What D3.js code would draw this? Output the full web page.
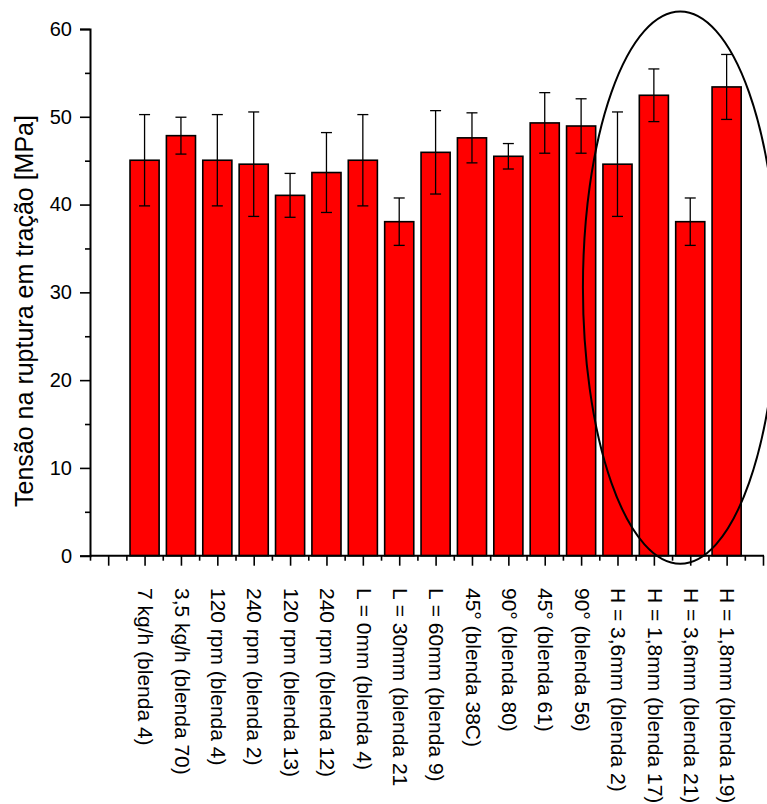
<!DOCTYPE html>
<html>
<head>
<meta charset="utf-8">
<script src="https://cdn.jsdelivr.net/npm/d3@7"></script>
<style>
  html, body { margin: 0; padding: 0; background: #fff; }
  svg { display: block; font-family: "Liberation Sans", Arial, sans-serif; }
</style>
</head>
<body>
<svg id="chart" width="767" height="804"></svg>
<script>
// Tensile strength at break per processing condition (mean ± standard deviation)
const categories = [
  "7 kg/h (blenda 4)",
  "3,5 kg/h (blenda 70)",
  "120 rpm (blenda 4)",
  "240 rpm (blenda 2)",
  "120 rpm (blenda 13)",
  "240 rpm (blenda 12)",
  "L = 0mm (blenda 4)",
  "L = 30mm (blenda 21",
  "L = 60mm (blenda 9)",
  "45° (blenda 38C)",
  "90° (blenda 80)",
  "45° (blenda 61)",
  "90° (blenda 56)",
  "H = 3,6mm (blenda 2)",
  "H = 1,8mm (blenda 17)",
  "H = 3,6mm (blenda 21)",
  "H = 1,8mm (blenda 19)"
];
const means  = [45.05, 47.85, 45.05, 44.6, 41.05, 43.65, 45.05, 38.05, 45.95, 47.6, 45.5, 49.3, 48.95, 44.6, 52.45, 38.05, 53.4];
const errors = [5.2, 2.1, 5.2, 5.95, 2.5, 4.55, 5.2, 2.7, 4.75, 2.85, 1.45, 3.45, 3.1, 5.95, 3.0, 2.7, 3.7];
const yTicks = [0, 10, 20, 30, 40, 50, 60];
const yMinorTicks = [5, 15, 25, 35, 45, 55];
const yTitle = "Tensão na ruptura em tração [MPa]";
// highlighted group: the four H = ... bars (indices into categories)
const highlight = { from: 13, to: 16, top: 62 };

const svg = d3.select("#chart");

// category slots: slot 0 and slot 18 are empty, bars sit in slots 1..17
const x = d3.scaleLinear().domain([-0.5, 18]).range([90, 763]);
const y = d3.scaleLinear().domain([0, 60]).range([555.7, 29]);
const slotW = x(1) - x(0);
const barW = slotW * 0.8;

// bars
svg.append("g").selectAll("rect")
  .data(means)
  .join("rect")
  .attr("x", (d, i) => x(i + 1) - barW / 2)
  .attr("y", d => y(d))
  .attr("width", barW)
  .attr("height", d => y(0) - y(d))
  .attr("fill", "#ff0000")
  .attr("stroke", "#000")
  .attr("stroke-width", 1.6);

// error bars
const eb = svg.append("g").attr("stroke", "#000").attr("stroke-width", 1.3);
means.forEach((m, i) => {
  const cx = x(i + 1), e = errors[i], cap = 5.5;
  eb.append("line").attr("x1", cx).attr("x2", cx).attr("y1", y(m + e)).attr("y2", y(m - e));
  eb.append("line").attr("x1", cx - cap).attr("x2", cx + cap).attr("y1", y(m + e)).attr("y2", y(m + e));
  eb.append("line").attr("x1", cx - cap).attr("x2", cx + cap).attr("y1", y(m - e)).attr("y2", y(m - e));
});

// y axis: labelled major ticks and short minor ticks
const yAxis = svg.append("g").attr("transform", `translate(${x(-0.5)},0)`)
  .call(d3.axisLeft(y).tickValues(yTicks).tickSize(10).tickPadding(8).tickFormat(d3.format("d")));
svg.append("g").attr("transform", `translate(${x(-0.5)},0)`)
  .call(d3.axisLeft(y).tickValues(yMinorTicks).tickSize(5).tickFormat(""))
  .call(g => g.select(".domain").remove());

// x axis: long ticks at slot centres, short ticks between them
const majorX = d3.range(0, 19);
const minorX = d3.range(-0.5, 18, 1);
svg.append("g").attr("transform", `translate(0,${y(0)})`)
  .call(d3.axisBottom(x).tickValues(majorX).tickSize(10).tickFormat(""))
  .call(g => g.select(".domain").attr("d", `M${x(-0.5)},0H${x(18) + 1}`));
svg.append("g").attr("transform", `translate(0,${y(0)})`)
  .call(d3.axisBottom(x).tickValues(minorX).tickSize(5).tickFormat(""))
  .call(g => g.select(".domain").remove());

svg.selectAll(".domain").attr("stroke", "#000").attr("stroke-width", 2);
svg.selectAll(".tick line").attr("stroke", "#000").attr("stroke-width", 1.6);
yAxis.selectAll(".tick text").attr("font-size", 20).attr("fill", "#000")
  .attr("font-family", "Liberation Sans, Arial, sans-serif");

// rotated category labels
svg.append("g").selectAll("text")
  .data(categories)
  .join("text")
  .attr("transform", (d, i) => `translate(${x(i + 1)},588) rotate(90)`)
  .attr("dy", "0.3em")
  .attr("text-anchor", "start")
  .attr("font-size", 21)
  .attr("fill", "#000")
  .text(d => d);

// y axis title
svg.append("text")
  .attr("transform", "translate(33,311) rotate(-90)")
  .attr("text-anchor", "middle")
  .attr("font-size", 25)
  .attr("fill", "#000")
  .text(yTitle);

// ellipse around the H = ... group
const ex1 = x(highlight.from + 1) - slotW * 0.95;
const ex2 = x(highlight.to + 1) + slotW * 1.4;
svg.append("ellipse")
  .attr("cx", (ex1 + ex2) / 2)
  .attr("cy", (y(highlight.top) + y(0) + 8) / 2)
  .attr("rx", (ex2 - ex1) / 2)
  .attr("ry", (y(0) + 8 - y(highlight.top)) / 2)
  .attr("fill", "none")
  .attr("stroke", "#000")
  .attr("stroke-width", 2);
</script>
</body>
</html>
